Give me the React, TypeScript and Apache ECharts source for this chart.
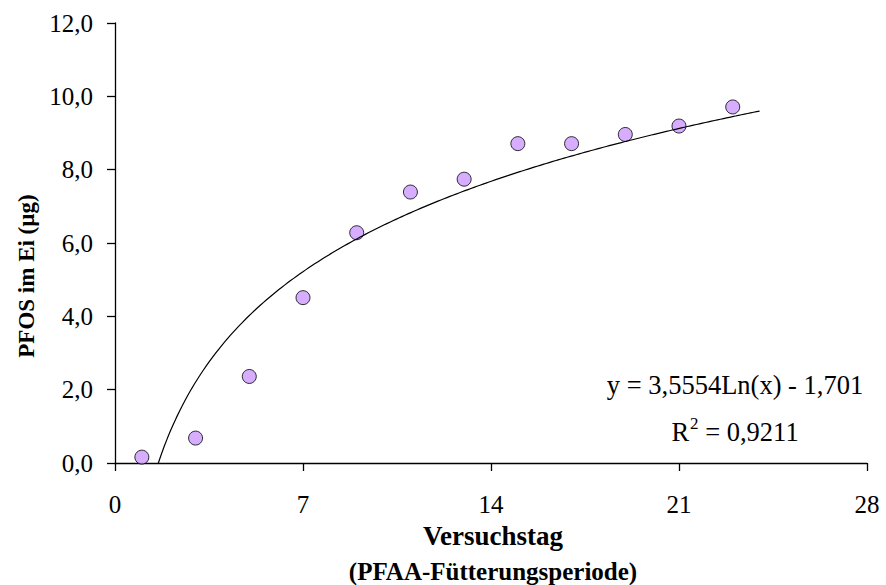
import React, { useEffect, useRef } from "react";
import * as echarts from "echarts";

const dayValues: number[] = [1, 3, 5, 7, 9, 11, 13, 15, 17, 19, 21, 23];
const pfosValues: number[] = [0.16, 0.68, 2.36, 4.51, 6.28, 7.39, 7.74, 8.71, 8.71, 8.96, 9.19, 9.71];
const xTicks: number[] = [0, 7, 14, 21, 28];
const yTicks: number[] = [0, 2, 4, 6, 8, 10, 12];
const trendA = 3.5554;
const trendB = -1.701;
const trendEnd = 24;
const equationText = "y = 3,5554Ln(x) - 1,701";
const r2Value = "0,9211";
const xTitle1 = "Versuchstag";
const xTitle2 = "(PFAA-Fütterungsperiode)";
const yTitle = "PFOS im Ei (µg)";

const FONT = "'Liberation Serif', 'Times New Roman', serif";

export default function App() {
  const ref = useRef<HTMLDivElement>(null);
  useEffect(() => {
    if (!ref.current) return;
    const chart = echarts.init(ref.current, undefined, { renderer: "svg" });
    const start = Math.exp(-trendB / trendA);
    const trend: number[][] = [];
    const steps = 200;
    for (let i = 0; i <= steps; i++) {
      const x = start + ((trendEnd - start) * i) / steps;
      trend.push([x, trendA * Math.log(x) + trendB]);
    }
    const points = dayValues.map((d, i) => [d, pfosValues[i]]);
    chart.setOption({
      animation: false,
      backgroundColor: "#ffffff",
      grid: { left: 115, right: 19, top: 23, bottom: 122, containLabel: false },
      xAxis: {
        type: "value",
        min: xTicks[0],
        max: xTicks[xTicks.length - 1],
        interval: 7,
        axisLine: { show: true, onZero: false, lineStyle: { color: "#000", width: 1.3 } },
        axisTick: { show: true, inside: false, length: 8, lineStyle: { color: "#000", width: 1.3 } },
        axisLabel: { color: "#000", fontFamily: FONT, fontSize: 25, margin: 29 },
        splitLine: { show: false },
      },
      yAxis: {
        type: "value",
        min: yTicks[0],
        max: yTicks[yTicks.length - 1],
        interval: 2,
        axisLine: { show: true, onZero: false, lineStyle: { color: "#000", width: 1.3 } },
        axisTick: { show: true, inside: false, length: 8, lineStyle: { color: "#000", width: 1.3 } },
        axisLabel: {
          color: "#000",
          fontFamily: FONT,
          fontSize: 25,
          margin: 22,
          formatter: (v: number) => v.toFixed(1).replace(".", ","),
        },
        splitLine: { show: false },
      },
      series: [
        {
          type: "scatter",
          data: points,
          symbol: "circle",
          symbolSize: 14,
          itemStyle: { color: "#CC99FF", borderColor: "#000", borderWidth: 1 },
          z: 2,
        },
        {
          type: "line",
          data: trend,
          showSymbol: false,
          symbol: "none",
          smooth: false,
          lineStyle: { color: "#000", width: 1.2 },
          z: 3,
        },
      ],
      graphic: [
        {
          type: "text",
          x: 735,
          y: 398,
          style: {
            text: equationText,
            fontFamily: FONT,
            fontSize: 26.5,
            fill: "#000",
            align: "center",
            verticalAlign: "bottom",
          },
        },
        {
          type: "text",
          x: 735,
          y: 445,
          style: {
            text: "{m|R}{s|2}{m| = " + r2Value + "}",
            fontFamily: FONT,
            fill: "#000",
            align: "center",
            verticalAlign: "bottom",
            rich: {
              m: { fontFamily: FONT, fontSize: 26.5, lineHeight: 30, fill: "#000", verticalAlign: "bottom" },
              s: { fontFamily: FONT, fontSize: 17, lineHeight: 30, fill: "#000", verticalAlign: "top", padding: [0, 0, 0, 1] },
            },
          },
        },
        {
          type: "text",
          x: 493,
          y: 536,
          style: {
            text: xTitle1,
            fontFamily: FONT,
            fontSize: 27,
            fontWeight: "bold",
            fill: "#000",
            align: "center",
            verticalAlign: "middle",
          },
        },
        {
          type: "text",
          x: 493,
          y: 571,
          style: {
            text: xTitle2,
            fontFamily: FONT,
            fontSize: 25,
            fontWeight: "bold",
            fill: "#000",
            align: "center",
            verticalAlign: "middle",
          },
        },
        {
          type: "text",
          x: 26,
          y: 276,
          rotation: Math.PI / 2,
          style: {
            text: yTitle,
            fontFamily: FONT,
            fontSize: 23,
            fontWeight: "bold",
            fill: "#000",
            align: "center",
            verticalAlign: "middle",
          },
        },
      ],
    });
    return () => chart.dispose();
  }, []);
  return (
    <div
      ref={ref}
      style={{ position: "fixed", left: 0, top: 0, width: 886, height: 585, background: "#fff" }}
    />
  );
}
